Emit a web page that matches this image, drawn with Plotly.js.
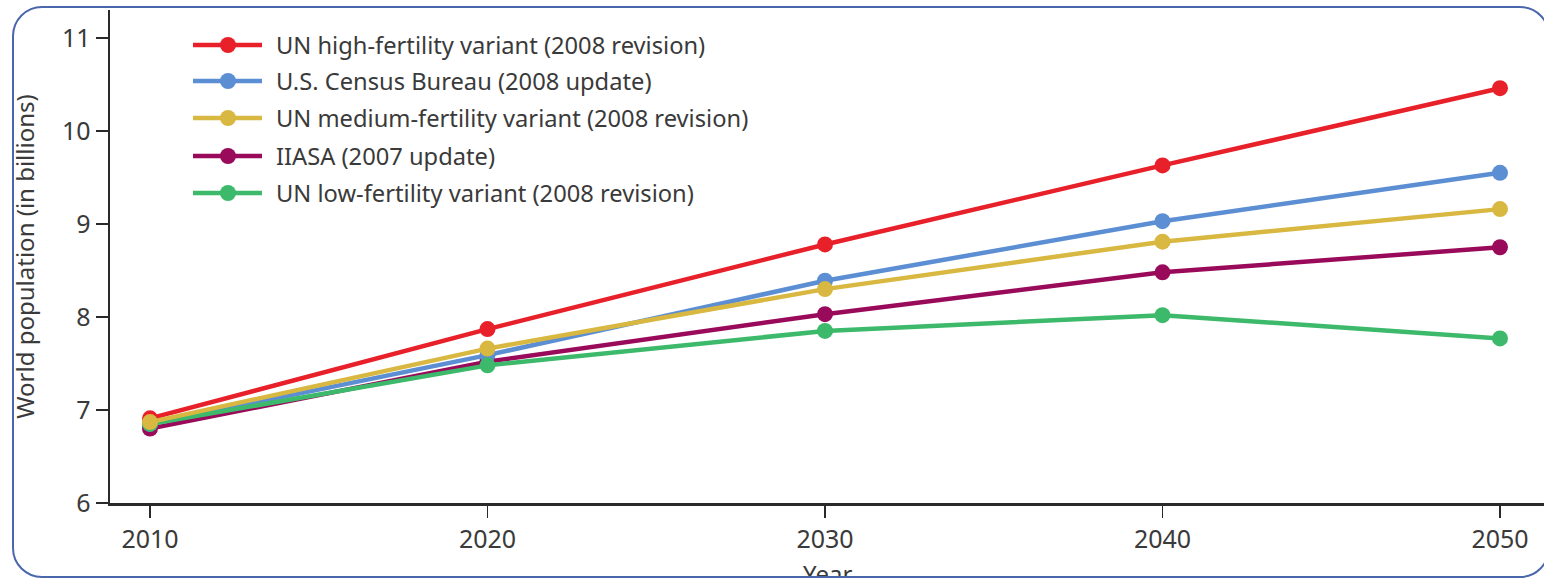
<!DOCTYPE html>
<html>
<head>
<meta charset="utf-8">
<script src="https://cdn.plot.ly/plotly-3.0.1.min.js"></script>
<style>
html,body{margin:0;padding:0;background:#fff;overflow:hidden;}
#wrap{position:relative;width:1544px;height:580px;overflow:hidden;}
#chart{position:absolute;left:0;top:0;width:1544px;height:580px;}
#frame{position:absolute;left:12px;top:6px;width:1538px;height:572px;border:2px solid #4a67ad;border-radius:30px;pointer-events:none;box-sizing:border-box;background:transparent;}
#cover{position:absolute;left:0;top:577px;width:1544px;height:3px;background:#fff;}
</style>
</head>
<body>
<div id="wrap"><div id="chart"></div><div id="cover"></div><div id="frame"></div></div>
<script>
const years = [2010, 2020, 2030, 2040, 2050];
const seriesNames = [
  "UN high-fertility variant (2008 revision)",
  "U.S. Census Bureau (2008 update)",
  "UN medium-fertility variant (2008 revision)",
  "IIASA (2007 update)",
  "UN low-fertility variant (2008 revision)"
];
const unHigh   = [6.91, 7.87, 8.78, 9.63, 10.46];
const usCensus = [6.85, 7.59, 8.39, 9.03, 9.55];
const unMedium = [6.87, 7.66, 8.30, 8.81, 9.16];
const iiasa    = [6.80, 7.52, 8.03, 8.48, 8.75];
const unLow    = [6.85, 7.48, 7.85, 8.02, 7.77];
const colors = ["#e8202a", "#5b8ed2", "#d8b840", "#9a0a5a", "#3cb96a"];
const yTicks = [6, 7, 8, 9, 10, 11];
const xTicks = [2010, 2020, 2030, 2040, 2050];
const xTitle = "Year";
const yTitle = "World population (in billions)";

const values = [unHigh, usCensus, unMedium, iiasa, unLow];
// drawing order (bottom to top)
const drawOrder = [3, 1, 4, 0, 2];
const traces = drawOrder.map(i => ({
  type: "scatter", mode: "lines+markers",
  x: years, y: values[i], name: seriesNames[i],
  line: {color: colors[i], width: 4.5},
  marker: {color: colors[i], size: 16},
  showlegend: false
}));

// custom legend
const L = 110, T = 10, PW = 1434, PH = 493;
const shapes = [], annotations = [];
const rowY = [45, 81, 118, 156, 193];
seriesNames.forEach((n, i) => {
  const py = (T + PH - rowY[i]) / PH;
  shapes.push({type: "line", xref: "paper", yref: "paper",
    x0: (193 - L) / PW, x1: (262 - L) / PW, y0: py, y1: py,
    line: {color: colors[i], width: 4.5}});
  shapes.push({type: "circle", xref: "paper", yref: "paper",
    xsizemode: "pixel", ysizemode: "pixel",
    xanchor: (228 - L) / PW, yanchor: py,
    x0: -8, x1: 8, y0: -8, y1: 8,
    fillcolor: colors[i], line: {width: 0}});
  annotations.push({xref: "paper", yref: "paper", x: (274 - L) / PW, y: py,
    xanchor: "left", yanchor: "middle", showarrow: false, text: n,
    font: {family: "Noto Sans", size: 23.7, color: "#3a3a3a"}});
});
// x-axis title (partly cut off by the frame, as in the reference)
annotations.push({xref: "paper", yref: "paper", x: 0.5, y: (T + PH - 573) / PH,
  xanchor: "center", yanchor: "middle", showarrow: false, text: xTitle,
  font: {family: "Noto Sans", size: 24, color: "#3a3a3a"}});

const layout = {
  width: 1544, height: 580,
  margin: {l: L, r: 0, t: T, b: 77},
  paper_bgcolor: "#fff", plot_bgcolor: "#fff",
  font: {family: "Noto Sans", color: "#3a3a3a", size: 24},
  showlegend: false,
  xaxis: {
    range: [2008.815, 2051.304], tickvals: xTicks, ticktext: xTicks.map(String),
    showgrid: false, zeroline: false, showline: true, linecolor: "#2a2a2a", linewidth: 2.5,
    ticks: "outside", ticklen: 12, tickwidth: 1.5, tickcolor: "#2a2a2a",
    tickfont: {size: 25, color: "#3a3a3a"},
    automargin: false
  },
  yaxis: {
    range: [6, 11.301], tickvals: yTicks, ticktext: yTicks.map(String),
    showgrid: false, zeroline: false, showline: true, linecolor: "#2a2a2a", linewidth: 2.5,
    ticks: "outside", ticklen: 12, tickwidth: 1.5, tickcolor: "#2a2a2a",
    tickfont: {size: 25, color: "#3a3a3a"},
    title: {text: yTitle, standoff: 21, font: {size: 24, color: "#3a3a3a"}},
    automargin: false
  },
  shapes: shapes,
  annotations: annotations
};
Plotly.newPlot("chart", traces, layout, {displayModeBar: false, staticPlot: true});
</script>
</body>
</html>
